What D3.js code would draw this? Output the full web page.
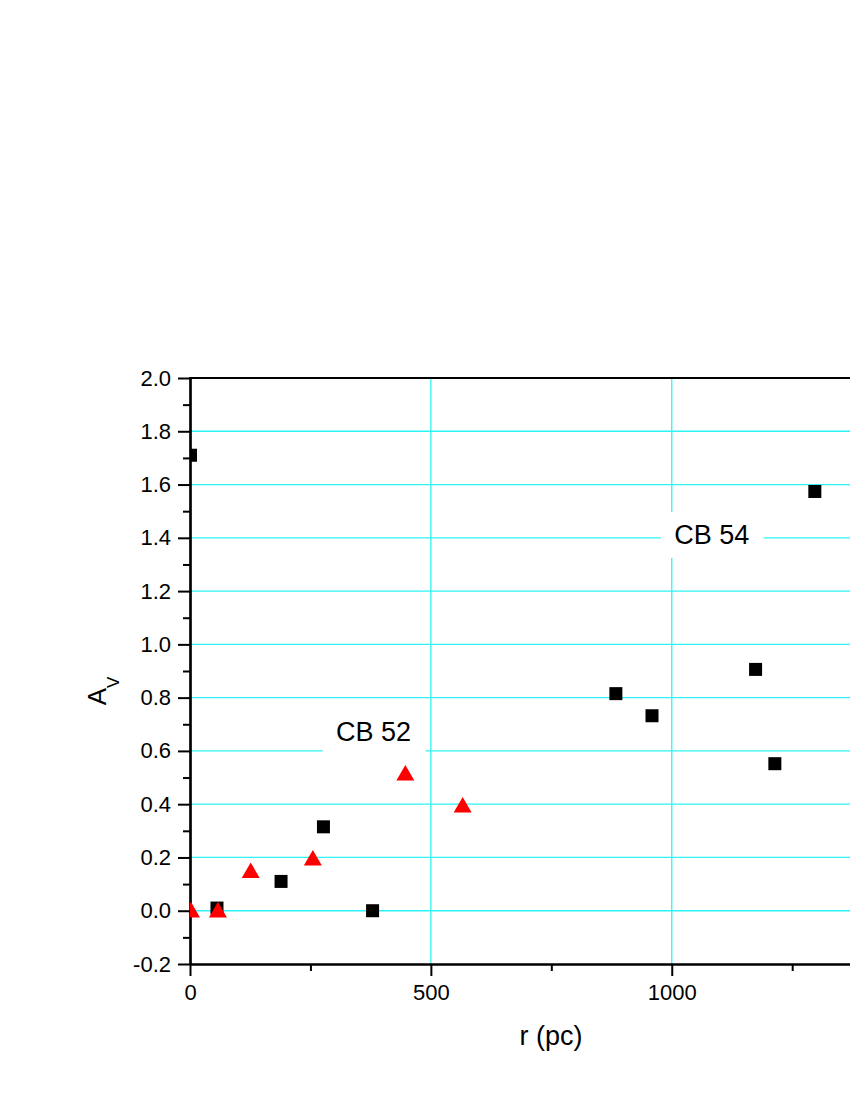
<!DOCTYPE html>
<html>
<head>
<meta charset="utf-8">
<script src="https://cdn.jsdelivr.net/npm/d3@7"></script>
<style>
  body { margin: 0; background: #fff; }
  text { font-family: "Liberation Sans", Arial, sans-serif; fill: #000; }
</style>
</head>
<body>
<div id="chart"></div>
<script>
// CB 54 stars (black squares)
let squareR = [1, 56, 189, 277, 379, 884, 959, 1174, 1214, 1297];
let squareAv = [1.71, 0.01, 0.11, 0.315, 0.0, 0.815, 0.732, 0.906, 0.552, 1.574];

// CB 52 stars (red triangles)
let triR = [2, 58, 126, 255, 447, 566];
let triAv = [0.0, 0.0, 0.148, 0.195, 0.514, 0.394];

let xTicks = [0, 500, 1000];
let xMinor = [250, 750, 1250];
let yTicks = [-0.2, 0.0, 0.2, 0.4, 0.6, 0.8, 1.0, 1.2, 1.4, 1.6, 1.8, 2.0];
let yMinor = [-0.1, 0.1, 0.3, 0.5, 0.7, 0.9, 1.1, 1.3, 1.5, 1.7, 1.9];
let gridX = [500, 1000];
let gridY = [0.0, 0.2, 0.4, 0.6, 0.8, 1.0, 1.2, 1.4, 1.6, 1.8];

let labels = [
  {text: "CB 52", r: 381, av: 0.672},
  {text: "CB 54", r: 1083, av: 1.411}
];

let width = 850, height = 1100;

let x = d3.scaleLinear().domain([0, 1370]).range([190, 850]);
let y = d3.scaleLinear().domain([-0.2, 2.0]).range([964, 378]);

let svg = d3.select("#chart")
.append("svg")
.attr("width", width)
.attr("height", height);

svg.append("clipPath")
.attr("id", "plot")
.append("rect")
.attr("x", x(0))
.attr("y", y(2.0))
.attr("width", x.range()[1] - x(0))
.attr("height", y(-0.2) - y(2.0));

// grid
let grid = svg.append("g");

grid.selectAll(".gy")
.data(gridY)
.enter()
.append("line")
.attr("x1", x(0))
.attr("x2", x.range()[1])
.attr("y1", d => y(d))
.attr("y2", d => y(d))
.attr("stroke", "#2ef3f3")
.attr("stroke-width", 1.3);

grid.selectAll(".gx")
.data(gridX)
.enter()
.append("line")
.attr("x1", d => x(d))
.attr("x2", d => x(d))
.attr("y1", y(2.0))
.attr("y2", y(-0.2))
.attr("stroke", "#2ef3f3")
.attr("stroke-width", 1.3);

// label boxes cover the grid
let lab = svg.append("g");

lab.selectAll("rect")
.data(labels)
.enter()
.append("rect")
.attr("x", d => x(d.r) - 51)
.attr("y", d => y(d.av) - 23)
.attr("width", 103)
.attr("height", 46)
.attr("fill", "#fff");

lab.selectAll("text")
.data(labels)
.enter()
.append("text")
.attr("x", d => x(d.r))
.attr("y", d => y(d.av) + 9)
.attr("text-anchor", "middle")
.style("font-size", "27px")
.text(d => d.text);

// axes
let fmtY = d => d3.format(".1f")(d).replace("\u2212", "-");

svg.append("g")
.attr("transform", `translate(0,${y(-0.2)})`)
.call(d3.axisBottom(x).tickValues(xTicks).tickSize(12).tickSizeOuter(0).tickPadding(8).tickFormat(d3.format("d")));

svg.append("g")
.attr("transform", `translate(0,${y(-0.2)})`)
.call(d3.axisBottom(x).tickValues(xMinor).tickSize(7).tickSizeOuter(0).tickFormat(""));

svg.append("g")
.attr("transform", `translate(${x(0)},0)`)
.call(d3.axisLeft(y).tickValues(yTicks).tickSize(12).tickSizeOuter(0).tickPadding(7).tickFormat(fmtY));

svg.append("g")
.attr("transform", `translate(${x(0)},0)`)
.call(d3.axisLeft(y).tickValues(yMinor).tickSize(7).tickSizeOuter(0).tickFormat(""));

svg.selectAll(".domain").attr("stroke-width", 2.2);
svg.selectAll(".tick line").attr("stroke-width", 2);
svg.selectAll(".tick text")
.style("font-size", "22px")
.style("font-family", "'Liberation Sans', Arial, sans-serif");

// top frame line
svg.append("line")
.attr("x1", x(0) - 1)
.attr("x2", x.range()[1])
.attr("y1", y(2.0))
.attr("y2", y(2.0))
.attr("stroke", "#000")
.attr("stroke-width", 2.2);

// points
let pts = svg.append("g").attr("clip-path", "url(#plot)");

pts.selectAll(".sq")
.data(squareR)
.enter()
.append("rect")
.attr("x", (d, i) => x(d) - 6.5)
.attr("y", (d, i) => y(squareAv[i]) - 6.5)
.attr("width", 13)
.attr("height", 13)
.attr("fill", "#000");

let tri = d3.symbol().type(d3.symbolTriangle).size(140);

pts.selectAll(".tri")
.data(triR)
.enter()
.append("path")
.attr("d", tri)
.attr("transform", (d, i) => `translate(${x(d)},${y(triAv[i]) + 1.5})`)
.attr("fill", "#ff0000");

// axis titles
svg.append("text")
.attr("x", 551)
.attr("y", 1045)
.attr("text-anchor", "middle")
.style("font-size", "27px")
.text("r (pc)");

let yt = svg.append("text")
.attr("transform", "translate(106,691) rotate(-90)")
.attr("text-anchor", "middle")
.style("font-size", "26px");

yt.append("tspan").text("A");
yt.append("tspan")
.attr("dy", 13)
.style("font-size", "17px")
.text("V");
</script>
</body>
</html>
